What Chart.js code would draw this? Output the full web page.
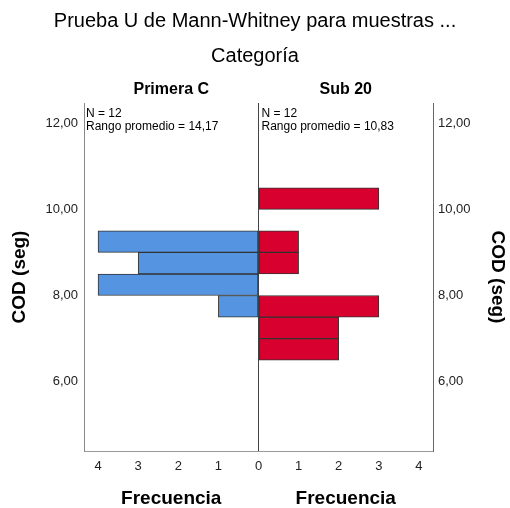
<!DOCTYPE html>
<html>
<head>
<meta charset="utf-8">
<script src="https://cdn.jsdelivr.net/npm/chart.js@4"></script>
<style>
  html, body { margin: 0; padding: 0; background: #fff; }
  #wrap { width: 510px; height: 508px; }
</style>
</head>
<body>
<div id="wrap"><canvas id="mannWhitneyChart"></canvas></div>
<script>
// bins of COD (seg), lower edge of each 0.5 s bin
const binStarts = [6.5, 7.0, 7.5, 8.0, 8.5, 9.0, 9.5, 10.0];
const binWidth = 0.5;
const groups = ["Primera C", "Sub 20"];
const freqPrimeraC = [0, 0, 1, 4, 3, 4, 0, 0];
const freqSub20 = [2, 2, 3, 0, 1, 1, 0, 3];
const groupN = [12, 12];
const meanRanks = ["14,17", "10,83"];
const freqTicks = [-4, -3, -2, -1, 0, 1, 2, 3, 4];

const FONT = "'Liberation Sans', Arial, sans-serif";

// left group goes to the negative side
function toBars(freqs, sign) {
  const out = [];
  freqs.forEach((f, i) => {
    if (f > 0) out.push({ x: sign * f, y: binStarts[i] + binWidth / 2 });
  });
  return out;
}

const panelText = {
  id: "panelText",
  afterDraw(chart) {
    const c = chart.ctx;
    const xs = chart.scales.x;
    const area = chart.chartArea;
    const mid = xs.getPixelForValue(0);
    const centers = [(area.left + mid) / 2, (mid + area.right) / 2];
    c.save();
    c.fillStyle = "#000";
    c.textAlign = "center";
    c.textBaseline = "middle";
    c.font = "bold 16px " + FONT;
    groups.forEach((g, i) => c.fillText(g, centers[i], area.top - 13));
    c.font = "bold 19px " + FONT;
    centers.forEach((cx) => c.fillText("Frecuencia", cx, 499));
    c.textAlign = "left";
    c.font = "12px " + FONT;
    const lefts = [area.left + 2, mid + 3];
    lefts.forEach((lx, i) => {
      c.fillText("N = " + groupN[i], lx, area.top + 11);
      c.fillText("Rango promedio = " + meanRanks[i], lx, area.top + 23.5);
    });
    c.restore();
  },
};

const data = {
  datasets: [
    {
      label: groups[0],
      data: toBars(freqPrimeraC, -1),
      backgroundColor: "#5594e0",
      borderColor: "#333333",
      borderWidth: 1,
      borderSkipped: false,
      grouped: false,
      barPercentage: 1,
      categoryPercentage: 1,
    },
    {
      label: groups[1],
      data: toBars(freqSub20, 1),
      backgroundColor: "#d7002f",
      borderColor: "#333333",
      borderWidth: 1,
      borderSkipped: false,
      grouped: false,
      barPercentage: 1,
      categoryPercentage: 1,
    },
  ],
};

const yTicks = {
  stepSize: 2,
  includeBounds: false,
  color: "#222",
  font: { family: FONT, size: 13 },
  callback: (v) => v.toFixed(2).replace(".", ","),
};

const config = {
  type: "bar",
  data: data,
  options: {
    indexAxis: "y",
    responsive: true,
    maintainAspectRatio: false,
    animation: false,
    layout: { padding: 0 },
    plugins: {
      legend: { display: false },
      tooltip: { enabled: false },
      title: {
        display: true,
        text: "Prueba U de Mann-Whitney para muestras ...",
        color: "#000",
        font: { family: FONT, size: 20, weight: "normal" },
        padding: { top: 9, bottom: 11 },
      },
      subtitle: {
        display: true,
        text: "Categoría",
        color: "#000",
        font: { family: FONT, size: 20, weight: "normal" },
        padding: { top: 0, bottom: 35 },
      },
    },
    scales: {
      x: {
        type: "linear",
        min: -4.35,
        max: 4.35,
        offset: false,
        grid: {
          drawTicks: false,
          offset: false,
          color: (ctx) => (ctx.tick && ctx.tick.value === 0 ? "#444" : "rgba(0,0,0,0)"),
        },
        border: { display: true, color: "#999" },
        ticks: {
          stepSize: 1,
          includeBounds: false,
          padding: 8,
          color: "#222",
          font: { family: FONT, size: 13 },
          callback: (v) => (freqTicks.includes(v) ? Math.abs(v) : ""),
        },
        afterFit: (s) => { s.height = 57; },
      },
      y: {
        type: "linear",
        position: "left",
        min: 4.39,
        max: 12.47,
        offset: false,
        grid: { display: false, drawTicks: false, offset: false },
        border: { display: true, color: "#888" },
        ticks: Object.assign({ padding: 6 }, yTicks),
        title: {
          display: true,
          text: "COD (seg)",
          color: "#000",
          font: { family: FONT, size: 19, weight: "bold" },
          padding: { top: 8, bottom: 0 },
        },
        afterFit: (s) => { s.width = 84; },
      },
      y2: {
        type: "linear",
        position: "right",
        min: 4.39,
        max: 12.47,
        offset: false,
        grid: { display: false, drawTicks: false, offset: false },
        border: { display: true, color: "#666" },
        ticks: Object.assign({ padding: 5 }, yTicks),
        title: {
          display: true,
          text: "COD (seg)",
          color: "#000",
          font: { family: FONT, size: 19, weight: "bold" },
          padding: { top: 1, bottom: 0 },
        },
        afterFit: (s) => { s.width = 77; },
      },
    },
  },
  plugins: [panelText],
};

const codChart = new Chart(document.getElementById("mannWhitneyChart"), config);
</script>
</body>
</html>
